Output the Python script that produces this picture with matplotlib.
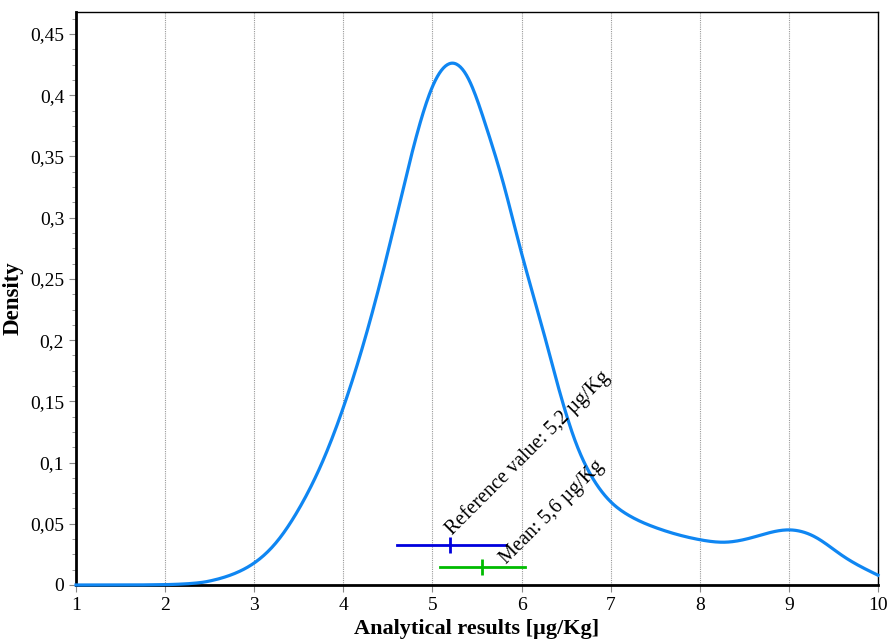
import matplotlib
matplotlib.use("Agg")
import matplotlib.pyplot as plt
import numpy as np
from matplotlib.ticker import MultipleLocator, FuncFormatter

# Density curve
curve_x = [1.0, 1.5, 2.0, 2.2, 2.4, 2.6, 2.8, 3.0, 3.25, 3.5, 3.75, 4.0, 4.25, 4.5, 4.75,
           5.0, 5.2, 5.4, 5.6, 5.8, 6.0, 6.2, 6.4, 6.6, 6.8, 7.0, 7.2, 7.5, 8.0, 8.3,
           8.6, 9.0, 9.3, 9.6, 10.0]
curve_y = [0.0, 0.0, 0.0003, 0.0008, 0.002, 0.005, 0.010, 0.018, 0.035, 0.062, 0.098,
           0.145, 0.203, 0.272, 0.347, 0.407, 0.426, 0.414, 0.375, 0.327, 0.271, 0.219,
           0.165, 0.118, 0.087, 0.068, 0.057, 0.047, 0.037, 0.035, 0.039, 0.045, 0.039,
           0.024, 0.008]

# Reference value and mean with ranges
ref_value = 5.2
ref_range = [4.6, 5.82]
ref_level = 0.0327
mean_value = 5.56
mean_range = [5.08, 6.04]
mean_level = 0.0147

ref_label = "Reference value: 5,2 µg/Kg"
mean_label = "Mean: 5,6 µg/Kg"

xticks = [1, 2, 3, 4, 5, 6, 7, 8, 9, 10]

plt.rcParams['font.family'] = ['Liberation Serif', 'DejaVu Serif']

fig = plt.figure(figsize=(8.91, 6.42), dpi=100)
ax = fig.add_axes([0.0853, 0.0888, 0.9001, 0.8925])


def pchip(x, y, xn):
    x = np.asarray(x, float); y = np.asarray(y, float)
    h = np.diff(x); d = np.diff(y) / h
    m = np.zeros_like(y)
    for k in range(1, len(x) - 1):
        if d[k-1] * d[k] <= 0:
            m[k] = 0
        else:
            w1 = 2*h[k] + h[k-1]; w2 = h[k] + 2*h[k-1]
            m[k] = (w1 + w2) / (w1/d[k-1] + w2/d[k])
    m[0] = d[0]; m[-1] = d[-1]
    idx = np.clip(np.searchsorted(x, xn) - 1, 0, len(x) - 2)
    t = (xn - x[idx]) / h[idx]
    h00 = 2*t**3 - 3*t**2 + 1; h10 = t**3 - 2*t**2 + t
    h01 = -2*t**3 + 3*t**2; h11 = t**3 - t**2
    return h00*y[idx] + h10*h[idx]*m[idx] + h01*y[idx+1] + h11*h[idx]*m[idx+1]


def natural_spline(x, y, xn):
    x = np.asarray(x, float); y = np.asarray(y, float)
    n = len(x); h = np.diff(x)
    A = np.zeros((n, n)); r = np.zeros(n)
    A[0, 0] = 1; A[-1, -1] = 1
    for i in range(1, n - 1):
        A[i, i-1] = h[i-1]; A[i, i] = 2*(h[i-1] + h[i]); A[i, i+1] = h[i]
        r[i] = 6*((y[i+1]-y[i])/h[i] - (y[i]-y[i-1])/h[i-1])
    M = np.linalg.solve(A, r)
    idx = np.clip(np.searchsorted(x, xn) - 1, 0, n - 2)
    x0 = x[idx]; x1 = x[idx+1]; hh = h[idx]
    return (M[idx]*(x1-xn)**3/(6*hh) + M[idx+1]*(xn-x0)**3/(6*hh)
            + (y[idx]/hh - M[idx]*hh/6)*(x1-xn) + (y[idx+1]/hh - M[idx+1]*hh/6)*(xn-x0))


xs = np.linspace(1, 10, 800)
ys_s = natural_spline(curve_x, curve_y, xs)
ys_p = pchip(curve_x, curve_y, xs)
ys = np.where(xs < 2.6, ys_p, ys_s)
ys = np.clip(ys, 0, None)
ax.plot(xs, ys, color='#0F86F2', lw=2.3, zorder=3, clip_on=False)

# error bars
ax.plot(ref_range, [ref_level, ref_level], color='#0000DD', lw=2, zorder=4)
ax.plot([ref_value], [ref_level], marker='|', ms=12, mew=2, color='#0000DD', zorder=4)
ax.plot(mean_range, [mean_level, mean_level], color='#00BB00', lw=2, zorder=4)
ax.plot([mean_value], [mean_level], marker='|', ms=12, mew=2, color='#00BB00', zorder=4)

ax.text(5.23, 0.0405, ref_label, rotation=45, rotation_mode='anchor', ha='left', va='baseline',
        fontsize=14.5, color='black', zorder=5)
ax.text(5.83, 0.0165, mean_label, rotation=45, rotation_mode='anchor', ha='left', va='baseline',
        fontsize=14.5, color='black', zorder=5)

ax.set_xlim(1, 10)
ax.set_ylim(0, 0.468)
ax.set_xticks(xticks)
ax.yaxis.set_major_locator(MultipleLocator(0.05))
ax.yaxis.set_minor_locator(MultipleLocator(0.0125))


def fmt(v, pos):
    s = ('%.2f' % v).rstrip('0').rstrip('.')
    return s.replace('.', ',')


ax.yaxis.set_major_formatter(FuncFormatter(fmt))

ax.grid(axis='x', color='#999999', linestyle=(0, (1, 1)), lw=0.8)
ax.tick_params(axis='both', labelsize=14, colors='black')
ax.tick_params(axis='both', which='major', length=5, color='#888888')
ax.tick_params(axis='y', which='minor', length=3, color='#888888')
ax.tick_params(axis='x', which='minor', length=0)

for side in ['left', 'bottom']:
    ax.spines[side].set_linewidth(2)
for side in ['top', 'right']:
    ax.spines[side].set_linewidth(1)

ax.set_xlabel('Analytical results [µg/Kg]', fontsize=16, fontweight='bold', labelpad=4)
ax.set_ylabel('Density', fontsize=16.5, fontweight='bold', labelpad=5)

fig.savefig('out.png', dpi=100)
